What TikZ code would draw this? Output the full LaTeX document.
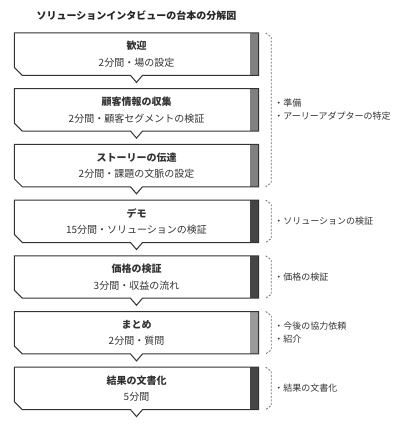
\documentclass[tikz,border=0pt]{standalone}
\usepackage{fontspec}
\setmainfont{Noto Sans CJK JP}
\usetikzlibrary{positioning}

\begin{document}
\begin{tikzpicture}[
			x=1pt, y=-1pt,
			flowbox/.style={minimum width=244pt, minimum height=42pt, inner sep=0pt, align=center, text=black!80, font=\fontsize{10}{16.5}\selectfont,
				append after command={\pgfextra{
						\fill[#1] ([xshift=-9pt]\tikzlastnode.north east) rectangle (\tikzlastnode.south east);
						\draw[black!80, line width=1pt]
						(\tikzlastnode.north west) -- (\tikzlastnode.north east) -- (\tikzlastnode.south east)
						-- ([xshift=6pt]\tikzlastnode.south) -- ([yshift=-7pt]\tikzlastnode.south) -- ([xshift=-6pt]\tikzlastnode.south)
						-- ([xshift=8pt]\tikzlastnode.south west) -- ([yshift=8pt]\tikzlastnode.south west) -- cycle;
				}}},
			bracket/.style={draw=black!55, dash pattern=on 2pt off 1.5pt, line width=0.8pt},
			note/.style={text=black!80, font=\fontsize{9}{13}\selectfont, align=left, inner sep=0pt},
			heading/.style={text=black!85, font=\fontsize{10}{12}\selectfont\bfseries}
			]
			
			\useasboundingbox (0,0) rectangle (403,427);
			
			% Title
			\node[heading] (title) at (136.5, 16) {ソリューションインタビューの台本の分解図};
			
			% Steps of the interview
			\node[flowbox=black!50] (welcome) at (136.5, 54.2) {\textbf{歓迎}\\2分間・場の設定};
			\node[flowbox=black!50] (customer) at (136.5, 109.9) {\textbf{顧客情報の収集}\\2分間・顧客セグメントの検証};
			\node[flowbox=black!50] (story) at (136.5, 165.6) {\textbf{ストーリーの伝達}\\2分間・課題の文脈の設定};
			\node[flowbox=black!73] (demo) at (136.5, 221.3) {\textbf{デモ}\\15分間・ソリューションの検証};
			\node[flowbox=black!73] (price) at (136.5, 277) {\textbf{価格の検証}\\3分間・収益の流れ};
			\node[flowbox=black!40] (summary) at (136.5, 332.7) {\textbf{まとめ}\\2分間・質問};
			\node[flowbox=black!73] (report) at (136.5, 388.4) {\textbf{結果の文書化}\\5分間};
			
			% Brackets on the right
			\draw[bracket] ([xshift=7pt]welcome.north east) -- ([xshift=12.5pt,yshift=-4pt]welcome.north east) -- ([xshift=12.5pt,yshift=4pt]story.south east) -- ([xshift=7pt]story.south east);
			\draw[bracket] ([xshift=7pt]demo.north east) -- ([xshift=12.5pt,yshift=-4pt]demo.north east) -- ([xshift=12.5pt,yshift=4pt]demo.south east) -- ([xshift=7pt]demo.south east);
			\draw[bracket] ([xshift=7pt]price.north east) -- ([xshift=12.5pt,yshift=-4pt]price.north east) -- ([xshift=12.5pt,yshift=4pt]price.south east) -- ([xshift=7pt]price.south east);
			\draw[bracket] ([xshift=7pt]summary.north east) -- ([xshift=12.5pt,yshift=-4pt]summary.north east) -- ([xshift=12.5pt,yshift=4pt]summary.south east) -- ([xshift=7pt]summary.south east);
			\draw[bracket] ([xshift=7pt]report.north east) -- ([xshift=12.5pt,yshift=-4pt]report.north east) -- ([xshift=12.5pt,yshift=4pt]report.south east) -- ([xshift=7pt]report.south east);
			
			% Notes
			\node[note, right=15.5pt of customer.east] (prepnote) {・準備\\・アーリーアダプターの特定};
			\node[note, right=15.5pt of demo.east] (demonote) {・ソリューションの検証};
			\node[note, right=15.5pt of price.east] (pricenote) {・価格の検証};
			\node[note, right=15.5pt of summary.east] (summarynote) {・今後の協力依頼\\・紹介};
			\node[note, right=15.5pt of report.east] (reportnote) {・結果の文書化};
			
		\end{tikzpicture}
\end{document}
